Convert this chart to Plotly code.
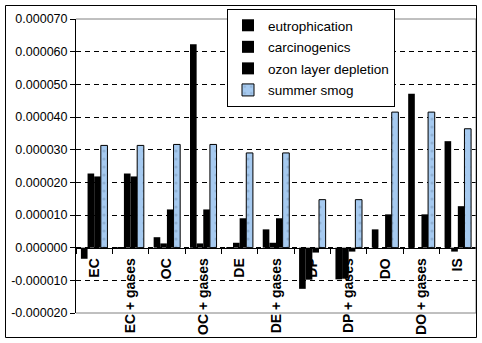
import plotly.graph_objects as go

categories = ["EC", "EC + gases", "OC", "OC + gases", "DE", "DE + gases",
              "DP", "DP + gases", "DO", "DO + gases", "IS"]

eutrophication = [-3.4e-6, -0.3e-6, 3.2e-6, 6.23e-5, -0.3e-6, 5.6e-6,
                  -1.26e-5, -9.7e-6, 5.6e-6, 4.71e-5, 3.26e-5]
carcinogenics = [2.27e-5, 2.27e-5, 1.3e-6, 1.3e-6, 1.5e-6, 1.5e-6,
                 -9.8e-6, -9.5e-6, 0.0, 0.0, -1.2e-6]
ozone_depletion = [2.18e-5, 2.18e-5, 1.17e-5, 1.17e-5, 9.0e-6, 9.0e-6,
                   -1.5e-6, -1.2e-6, 1.02e-5, 1.02e-5, 1.27e-5]
summer_smog = [3.13e-5, 3.13e-5, 3.16e-5, 3.16e-5, 2.9e-5, 2.9e-5,
               1.47e-5, 1.47e-5, 4.15e-5, 4.15e-5, 3.64e-5]

series_names = ["eutrophication", "carcinogenics", "ozon layer depletion", "summer smog"]

y_ticks = [-0.00002, -0.00001, 0.0, 0.00001, 0.00002, 0.00003,
           0.00004, 0.00005, 0.00006, 0.00007]
y_ticktext = ["%.6f" % v for v in y_ticks]

FONT = "Liberation Sans, Arial, sans-serif"

fig = go.Figure()
series = [eutrophication, carcinogenics, ozone_depletion, summer_smog]
for i, (name, vals) in enumerate(zip(series_names, series)):
    if i < 3:
        marker = dict(color="black", line=dict(width=0))
    else:
        marker = dict(color="#A6CAF0", line=dict(color="black", width=1),
                      pattern=dict(shape=".", fgcolor="#7a98b8", size=8, solidity=0.12))
    fig.add_trace(go.Bar(x=categories, y=vals, name=name, marker=marker,
                         legendgroup="g%d" % i))

W, H = 482, 343
L, R, T, B = 76, 6, 19, 30
pw = W - L - R
ph = H - T - B

def px_x(px):
    return (px - L) / pw

def px_y(py):
    return (H - B - py) / ph

ymin, ymax = y_ticks[0], y_ticks[-1]
zero_pos = (0 - ymin) / (ymax - ymin)

fig.update_layout(
    width=W, height=H,
    margin=dict(l=L, r=R, t=T, b=B),
    paper_bgcolor="white", plot_bgcolor="white",
    barmode="group", bargap=0.27, bargroupgap=0,
    font=dict(family=FONT, size=12, color="black"),
    showlegend=True,
    legend=dict(x=px_x(227), y=px_y(9), xanchor="left", yanchor="top",
                bgcolor="white", bordercolor="black", borderwidth=1,
                font=dict(size=13.5, family=FONT), tracegroupgap=1,
                itemwidth=30),
    xaxis=dict(type="category", categoryorder="array", categoryarray=categories,
               anchor="free", position=zero_pos,
               showline=True, linecolor="black", linewidth=1,
               ticks="outside", ticklen=5, tickcolor="black", tickson="boundaries",
               tickangle=-90, ticklabelstandoff=4,
               tickfont=dict(size=14, family=FONT, weight="bold"),
               showgrid=False, zeroline=False),
    yaxis=dict(range=[ymin, ymax], tickvals=y_ticks, ticktext=y_ticktext,
               showline=True, linecolor="black", linewidth=1,
               ticks="outside", ticklen=5, tickcolor="black",
               tickfont=dict(size=12.5, family=FONT),
               showgrid=True, gridcolor="black", gridwidth=1, griddash="5px,4px",
               zeroline=False),
)

# grey plot-area border (top, bottom, right)
for (x0, y0, x1, y1) in [(0, 1, 1, 1), (0, 0, 1, 0), (1, 0, 1, 1)]:
    fig.add_shape(type="line", xref="paper", yref="paper", x0=x0, y0=y0, x1=x1, y1=y1,
                  line=dict(color="#808080", width=1), layer="above")

# outer chart frame
fig.add_shape(type="rect", xref="paper", yref="paper",
              x0=px_x(5.5), x1=px_x(476.5), y0=px_y(337.5), y1=px_y(5.5),
              line=dict(color="black", width=1), fillcolor="rgba(0,0,0,0)", layer="above")

fig.write_html("out.html")
